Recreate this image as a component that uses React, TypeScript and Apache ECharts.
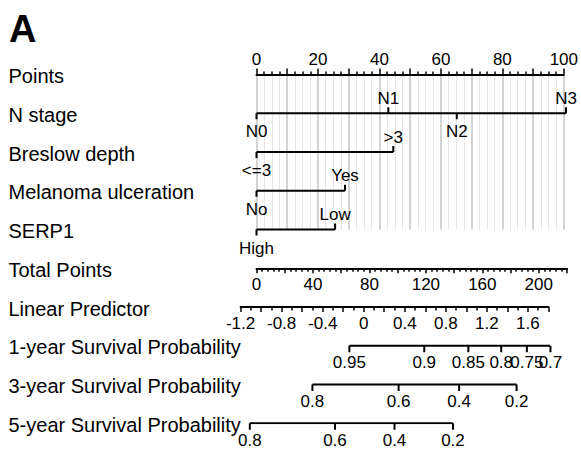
import React, { useEffect, useRef } from "react";
import * as echarts from "echarts";

// ---------- data ----------
const rowNames = [
  "Points",
  "N stage",
  "Breslow depth",
  "Melanoma ulceration",
  "SERP1",
  "Total Points",
  "Linear Predictor",
  "1-year Survival Probability",
  "3-year Survival Probability",
  "5-year Survival Probability",
];

const nStageLevels = ["N0", "N1", "N2", "N3"];
const nStagePoints = [0, 42.6, 64.7, 100];
const breslowLevels = ["<=3", ">3"];
const breslowPoints = [0, 44.2];
const ulcerationLevels = ["No", "Yes"];
const ulcerationPoints = [0, 28.6];
const serp1Levels = ["High", "Low"];
const serp1Points = [0, 25.4];

const survival1Values = [0.95, 0.9, 0.85, 0.8, 0.75, 0.7];
const survival1Lp = [-0.14, 0.59, 1.02, 1.34, 1.59, 1.82];
const survival3Values = [0.8, 0.6, 0.4, 0.2];
const survival3Lp = [-0.5, 0.34, 0.93, 1.49];
const survival5Values = [0.8, 0.6, 0.4, 0.2];
const survival5Lp = [-1.11, -0.28, 0.3, 0.87];

// ---------- layout / style ----------
const FONT = "'Liberation Sans', Arial, Helvetica, sans-serif";
const ROW0 = 74.5;
const STEP = 38.75;
const PTS_LEFT = 256.5;
const PTS_WIDTH = 309.5;
const TOT_WIDTH = 310.5;
const LP_LEFT = 240.6;
const LP_WIDTH = 307.8;
const INK = "#000";

function levelSeries(levels: string[], pts: number[], row: number) {
  const line = {
    type: "line",
    xAxisIndex: 1,
    yAxisIndex: 1,
    data: [
      [Math.min(...pts), row],
      [Math.max(...pts), row],
    ],
    symbol: "none",
    silent: true,
    lineStyle: { color: INK, width: 2 },
  };
  const ticks = {
    type: "custom",
    xAxisIndex: 1,
    yAxisIndex: 1,
    silent: true,
    clip: false,
    data: pts.map((p, k) => [p, row, k]),
    renderItem: (params: any, api: any) => {
      const k = api.value(2);
      const [px, py] = api.coord([api.value(0), api.value(1)]);
      const up = k % 2 === 1;
      return {
        type: "group",
        children: [
          {
            type: "line",
            shape: { x1: px, y1: py, x2: px, y2: up ? py - 6 : py + 6 },
            style: { stroke: INK, lineWidth: 2 },
          },
          {
            type: "text",
            style: {
              text: levels[params.dataIndex],
              x: px,
              y: up ? py - 15 : py + 18.5,
              align: "center",
              verticalAlign: "middle",
              fontSize: 17,
              fontFamily: FONT,
              fill: INK,
            },
          },
        ],
      };
    },
  };
  return [line, ticks];
}

function probSeries(values: number[], lp: number[], row: number) {
  const line = {
    type: "line",
    xAxisIndex: 4,
    yAxisIndex: 4,
    data: [
      [lp[0], row],
      [lp[lp.length - 1], row],
    ],
    symbol: "none",
    silent: true,
    lineStyle: { color: INK, width: 2 },
  };
  const ticks = {
    type: "custom",
    xAxisIndex: 4,
    yAxisIndex: 4,
    silent: true,
    clip: false,
    data: lp.map((v) => [v, row]),
    renderItem: (params: any, api: any) => {
      const [px, py] = api.coord([api.value(0), api.value(1)]);
      return {
        type: "group",
        children: [
          {
            type: "line",
            shape: { x1: px, y1: py, x2: px, y2: py + 6.5 },
            style: { stroke: INK, lineWidth: 2 },
          },
          {
            type: "text",
            style: {
              text: String(values[params.dataIndex]),
              x: px,
              y: py + 17,
              align: "center",
              verticalAlign: "middle",
              fontSize: 17,
              fontFamily: FONT,
              fill: INK,
            },
          },
        ],
      };
    },
  };
  return [line, ticks];
}

function buildOption() {
  const axisLabelBase = { fontSize: 17, fontFamily: FONT, color: INK };
  return {
    animation: false,
    backgroundColor: "#fff",
    graphic: [
      {
        type: "text",
        left: 9,
        top: 10,
        style: {
          text: "A",
          fontSize: 38,
          fontWeight: "bold",
          fontFamily: FONT,
          fill: INK,
        },
      },
    ],
    grid: [
      { left: PTS_LEFT, width: PTS_WIDTH, top: ROW0, height: STEP * 4 },
      { left: PTS_LEFT, width: PTS_WIDTH, top: ROW0, height: STEP * 9 },
      { left: PTS_LEFT, width: TOT_WIDTH, top: ROW0 + STEP * 5 - 1, height: 1 },
      { left: LP_LEFT, width: LP_WIDTH, top: ROW0 + STEP * 6 - 1, height: 1 },
      { left: LP_LEFT, width: LP_WIDTH, top: ROW0 + STEP * 6, height: STEP * 3 },
    ],
    xAxis: [
      {
        gridIndex: 0,
        type: "value",
        position: "top",
        min: 0,
        max: 100,
        interval: 10,
        axisLine: { show: true, onZero: false, lineStyle: { color: INK, width: 2 } },
        axisTick: { show: true, length: 6, lineStyle: { color: INK, width: 1.5 } },
        minorTick: { show: true, splitNumber: 4, length: 3, lineStyle: { color: INK, width: 1.5 } },
        axisLabel: {
          ...axisLabelBase,
          margin: 7,
          formatter: (v: number) => (Math.round(v) % 20 === 0 ? String(Math.round(v)) : ""),
        },
        splitLine: { show: true, lineStyle: { color: "#c4c4c4", width: 1.5 } },
        minorSplitLine: { show: true, lineStyle: { color: "#e6e6e6", width: 1 } },
      },
      { gridIndex: 1, type: "value", min: 0, max: 100, show: false },
      {
        gridIndex: 2,
        type: "value",
        position: "bottom",
        min: 0,
        max: 220,
        interval: 20,
        axisLine: { show: true, onZero: false, lineStyle: { color: INK, width: 2 } },
        axisTick: { show: true, length: 5, lineStyle: { color: INK, width: 1.5 } },
        minorTick: { show: true, splitNumber: 5, length: 3.5, lineStyle: { color: INK, width: 1.5 } },
        axisLabel: {
          ...axisLabelBase,
          margin: 8,
          formatter: (v: number) => (Math.round(v) % 40 === 0 ? String(Math.round(v)) : ""),
        },
        splitLine: { show: false },
      },
      {
        gridIndex: 3,
        type: "value",
        position: "bottom",
        min: -1.2,
        max: 1.8,
        interval: 0.2,
        axisLine: { show: true, onZero: false, lineStyle: { color: INK, width: 2 } },
        axisTick: { show: true, length: 5, lineStyle: { color: INK, width: 1.5 } },
        minorTick: { show: true, splitNumber: 2, length: 3.5, lineStyle: { color: INK, width: 1.5 } },
        axisLabel: {
          ...axisLabelBase,
          margin: 8,
          showMaxLabel: false,
          formatter: (v: number) => {
            const t = Math.round(v * 10);
            return t % 4 === 0 ? String(t / 10) : "";
          },
        },
        splitLine: { show: false },
      },
      { gridIndex: 4, type: "value", min: -1.2, max: 1.8, show: false },
    ],
    yAxis: [
      { gridIndex: 0, type: "value", min: 0, max: 4, inverse: true, show: false },
      { gridIndex: 1, type: "value", min: 0, max: 9, inverse: true, show: false },
      { gridIndex: 2, type: "value", min: 0, max: 1, show: false },
      { gridIndex: 3, type: "value", min: 0, max: 1, show: false },
      { gridIndex: 4, type: "value", min: 6, max: 9, inverse: true, show: false },
    ],
    series: [
      {
        type: "custom",
        xAxisIndex: 1,
        yAxisIndex: 1,
        silent: true,
        clip: false,
        data: rowNames.map((_, i) => [0, i]),
        renderItem: (params: any, api: any) => {
          const py = api.coord([0, api.value(1)])[1];
          return {
            type: "text",
            style: {
              text: rowNames[params.dataIndex],
              x: 8.5,
              y: py + 1.5,
              align: "left",
              verticalAlign: "middle",
              fontSize: 20,
              fontFamily: FONT,
              fill: INK,
            },
          };
        },
      },
      ...levelSeries(nStageLevels, nStagePoints, 1),
      ...levelSeries(breslowLevels, breslowPoints, 2),
      ...levelSeries(ulcerationLevels, ulcerationPoints, 3),
      ...levelSeries(serp1Levels, serp1Points, 4),
      ...probSeries(survival1Values, survival1Lp, 7),
      ...probSeries(survival3Values, survival3Lp, 8),
      ...probSeries(survival5Values, survival5Lp, 9),
    ],
  };
}

export default function App() {
  const ref = useRef<HTMLDivElement>(null);
  useEffect(() => {
    if (!ref.current) return;
    const chart = echarts.init(ref.current, null, { renderer: "svg" });
    chart.setOption(buildOption() as any);
    return () => chart.dispose();
  }, []);
  return (
    <div
      ref={ref}
      style={{ position: "fixed", left: 0, top: 0, width: 581, height: 451, background: "#fff" }}
    />
  );
}
